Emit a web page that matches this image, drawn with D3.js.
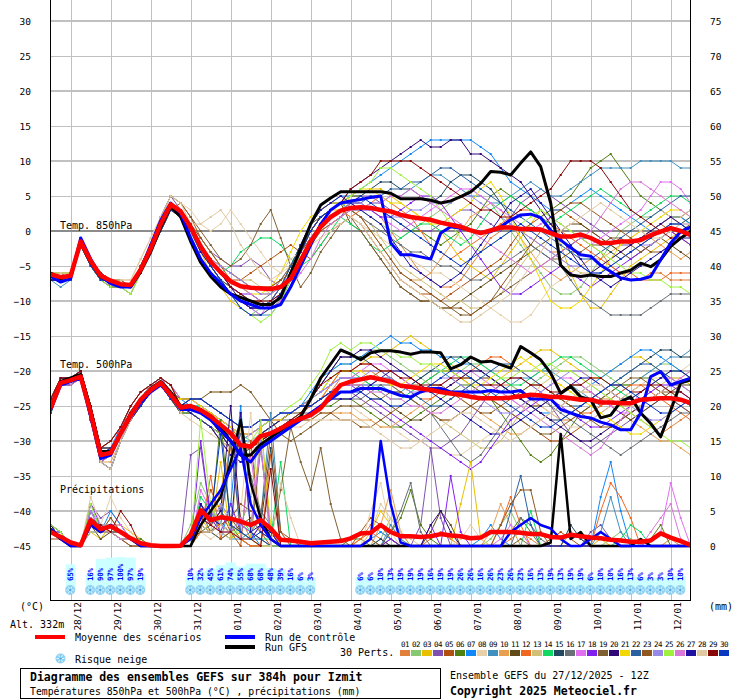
<!DOCTYPE html>
<html><head><meta charset="utf-8">
<script src="https://cdn.jsdelivr.net/npm/d3@7"></script>
<style>body{margin:0;background:#fff}svg{display:block}text{font-family:"DejaVu Sans Mono",monospace}</style>
</head><body><svg id="c" width="740" height="700"></svg>
<script>
// ---------- DATA ----------
const stepHours = [0,6,12,18,24,30,36,42,48,54,60,66,72,78,84,90,96,102,108,114,120,126,132,138,144,150,156,162,168,174,180,186,192,198,204,210,216,222,228,234,240,246,252,258,264,270,276,282,288,294,300,306,312,318,324,330,336,342,348,354,360,366,372,378,384];
const dateHours = [12,36,60,84,108,132,156,180,204,228,252,276,300,324,348,372];
const dateLabels = ["28/12","29/12","30/12","31/12","01/01","02/01","03/01","04/01","05/01","06/01","07/01","08/01","09/01","10/01","11/01","12/01"];
const tempTicks = [30,25,20,15,10,5,0,-5,-10,-15,-20,-25,-30,-35,-40,-45];
const mmTicks = [75,70,65,60,55,50,45,40,35,30,25,20,15,10,5,0];
const pertColors = ["#e0803a","#88c870","#e8c000","#8050b0","#b05010","#508010","#1088f8","#e8d0a8","#4090c0","#e8a050","#604a18","#f06820","#d0c078","#10d860","#204860","#687078","#e070f0","#8020f0","#806030","#300878","#f0d800","#2860a0","#905820","#9888e8","#a0f040","#d878d8","#2010a0","#e0c8a0","#880808","#0838c0"];
const pertLabels = ["01","02","03","04","05","06","07","08","09","10","11","12","13","14","15","16","17","18","19","20","21","22","23","24","25","26","27","28","29","30"];

const mean850 = [-6.2,-6.6,-6.4,-1.5,-4.3,-6.4,-7.1,-7.6,-7.7,-5.5,-2.5,1.0,3.8, 2.8,0.5,-2.2,-4.4,-5.9,-7.2,-7.9,-8.1,-8.2,-8.3,-8.0,-6.8,-4.2,-1.5,0.6,2.0,2.9, 3.3,3.4,3.3,3.0,2.8,2.3,2.0,1.8,1.6,1.2,0.9,0.6,0.1,-0.3,0.1,0.5,0.5,0.3,0.3,0.2,-0.3,-0.8,-0.8,-0.5,-1.0,-1.7,-1.7,-1.5,-1.5,-1.3,-0.6,-0.1,0.4,0.0,-0.6];
const control850 = [-6.5,-7.3,-6.8,-1.0,-4.0,-6.5,-7.5,-8.0,-8.0,-5.5,-2.0,1.5,4.0, 2.5,-1.0,-4.0,-6.0,-7.5,-9.0,-10.0,-10.5,-11.0,-11.0,-10.5,-8.0,-5.0,-2.0,1.0,3.0,4.0, 4.3,4.5,4.8,5.0,-1.7,-3.4,-3.4,-3.7,-4.0,-0.3,0.6,0.4,0.1,-0.2,-0.1,0.6,1.6,2.3,2.4,1.9,0.1,-1.3,-2.4,-3.4,-3.6,-4.9,-5.8,-6.7,-7.0,-6.9,-6.5,-4.1,-1.7,-0.1,0.6];
const gfs850 = [-6.0,-6.8,-6.3,-1.8,-4.5,-6.6,-7.3,-7.8,-8.0,-5.8,-3.0,0.5,3.5, 2.0,-1.5,-4.5,-6.5,-8.0,-9.0,-9.5,-10.0,-10.5,-10.5,-9.5,-6.0,-2.5,1.0,3.7,4.7,5.6, 5.6,5.6,5.6,5.6,5.4,4.6,4.6,4.6,4.4,4.0,4.3,4.9,5.6,6.8,8.5,8.4,8.0,9.7,11.3,9.2,4.0,-4.9,-6.3,-6.5,-6.3,-6.5,-6.5,-6.0,-5.6,-4.6,-5.1,-4.1,-2.2,-1.0,-0.1];

const mean500 = [-25.3,-21.7,-21.3,-20.8,-26.0,-32.0,-31.7,-28.9,-26.3,-24.1,-22.7,-21.7,-23.4, -25.2,-25.0,-25.6,-26.5,-27.7,-28.9,-30.6,-30.8,-29.3,-28.9,-28.2,-27.4,-26.8,-26.3,-25.3,-23.6,-22.0, -21.5,-21.2,-20.9,-21.2,-21.5,-22.1,-22.3,-22.5,-22.7,-23.0,-23.2,-23.4,-23.7,-23.9,-23.9,-23.9,-23.8,-23.6,-23.4,-23.5,-23.7,-23.7,-23.9,-24.1,-24.1,-24.5,-24.5,-24.6,-24.6,-24.1,-24.0,-23.9,-23.9,-24.1,-24.6];
const control500 = [-25.5,-22,-21.5,-21,-26.5,-32.5,-32,-29,-26.5,-24.5,-23,-22,-23.5, -25.5,-25.5,-26,-27,-28.5,-30,-32,-33,-31,-30,-29,-28,-27,-26,-25,-24,-23, -23,-22.5,-22.5,-22.5,-23,-23.5,-23.7,-23,-22.5,-22.5,-23,-23,-23,-23,-22.8,-23,-23,-22.8,-24,-24,-24,-25.5,-26,-26.5,-26.7,-27.3,-27.7,-28.4,-28.4,-26,-20.8,-20.1,-22,-21.5,-21];
const gfs500 = [-25,-21.5,-21,-20.5,-25.5,-31.5,-31.5,-29,-26,-24,-22.5,-21.5,-23, -25,-25,-25.5,-26.5,-28,-30,-32,-32,-30.5,-29.5,-28.5,-27.5,-26.5,-24,-21,-19,-17, -17.6,-18.4,-17.4,-17.1,-17.1,-17.3,-17.6,-17.3,-17.3,-17.4,-19.7,-19.1,-18.0,-18.7,-18.6,-19.1,-19.6,-16.5,-17.4,-18.4,-20.3,-23.2,-22.2,-23.7,-24.1,-26.7,-26.3,-24.4,-23.7,-26.0,-27.5,-29.4,-25.6,-21.7,-21.3];

const meanPrecip = [2.0,1.3,0.5,0.1,3.7, 2.4,2.8,2.0,1.1,0.4, 0.1,0,0,0.05,1.6, 5.1,3.7,4.1,3.9,3.5, 3.0,3.7,2.5,0.9,0.8, 0.6,0.4,0.5,0.6,0.7, 1.1,1.8,1.9,3.0,2.0, 1.4,1.4,1.3,1.4,1.7, 1.5,1.4,1.1,1.2,2.0, 2.0,2.0,1.9,1.7,1.7, 1.3,1.2,1.6,1.4,1.2, 1.1,0.9,0.8,0.6,0.6, 0.8,1.8,1.2,0.7,0.1];
const controlPrecip = [2.5,1,0,0,3, 2,3,2,1,0, 0,0,0,0,1, 4,6,8,11,14, 6,3,1,0,0, 0,0,0,0,0, 0,0,1,15,6, 0.5,0,0,0,0, 0,0,0,0,0, 0,2,3,4,3, 2.5,1,0,0,1, 2,1,0,0,0, 0,0,0,0,0];
const gfsPrecip = [2,1,0,0,3, 2,3,2,1,0, 0,0,0,0,0, 3,5,7,12,18, 9,4,1,0,0, 0,0,0,0,0, 0,0,0,0,0, 0,0,0,0,0, 0,0,0,0,0, 0,0,0,0,0, 0.5,16,1,2,0, 0,0,0,0,1, 0,0,0,0,0];

const snowRisk = [0,0,65,0,16, 90,97,100,97,19, 0,0,0,0,10, 32,45,61,74,55, 68,68,48,39,16, 6,3,0,0,0, 0,6,6,10,13, 19,19,19,16,19, 19,26,26,16,26, 23,26,23,16,13, 19,13,19,19,6, 10,10,16,13,6, 3,3,10,10,0];

const t850Perts = [
[-6,-6,-6,-1,-4,-6,-7,-7,-8,-5,-2,1,4, 3,1,-2,-4,-6,-8,-9,-10,-10,-11,-9,-6,-3,-1,1,2,3, 4,4,3,2,0,-2,-4,-6,-7,-8,-8,-7,-5,-3,-1,0,1,0,-1,-2,-3,-3,-2,-1,-2,-3,-5,-6,-7,-7,-6,-6,-7,-7,-7],
[-6,-7,-7,-2,-5,-7,-7,-8,-8,-6,-3,1,3, 3,0,-3,-5,-7,-9,-11,-12,-11,-10,-8,-5,-2,0,2,3,4, 3,3,2,1,0,-1,0,1,2,3,4,5,6,5,4,2,0,-2,-4,-6,-8,-9,-9,-8,-6,-4,-2,0,1,2,2,3,2,1,0],
[-6,-7,-6,-2,-4,-6,-7,-8,-9,-6,-3,0,3, 2,0,-3,-6,-8,-10,-11,-12,-12,-11,-9,-6,-3,0,2,3,3, 5,5,6,6,5,4,3,2,1,0,-2,-4,-5,-6,-7,-5,-3,-1,1,3,2,-2,-6,-9,-11,-11,-9,-7,-5,-4,-3,-2,-1,0,0],
[-6,-6,-6,-1,-4,-6,-7,-8,-8,-5,-2,2,5, 3,1,-1,-3,-4,-5,-5,-4,-5,-7,-8,-6,-4,-2,0,1,2, 4,5,5,4,3,2,1,0,0,1,2,3,3,2,1,0,2,4,5,6,5,4,3,2,1,0,-1,-2,-2,-1,0,1,2,2,3],
[-7,-7,-6,-2,-4,-6,-8,-8,-8,-6,-2,0,3, 4,2,-1,-3,-5,-7,-7,-6,-5,-4,-3,-2,-3,-4,-2,0,1, 2,1,-1,-3,-5,-7,-8,-9,-9,-10,-9,-8,-7,-6,-5,-4,-2,0,1,2,3,3,2,1,0,-1,-2,-3,-2,-1,0,1,0,-1,-2],
[-6,-7,-6,-1,-4,-6,-7,-8,-8,-5,-2,1,4, 3,1,-2,-4,-6,-7,-8,-9,-10,-11,-10,-7,-4,-1,1,2,3, 4,4,3,3,2,1,0,0,-1,-2,-1,0,1,3,5,6,5,4,3,2,3,4,5,7,9,10,11,9,7,5,4,3,2,2,1],
[-6,-6,-6,-2,-5,-7,-7,-8,-8,-6,-3,1,3, 2,-1,-4,-6,-7,-8,-9,-10,-11,-11,-9,-6,-2,1,3,4,5, 5,6,7,8,9,10,11,12,13,13,13,13,13,12,11,9,7,6,5,4,3,3,4,5,6,5,4,3,2,1,0,1,2,2,1],
[-6,-7,-6,-1,-4,-6,-7,-7,-7,-4,-1,2,5, 4,3,1,0,1,3,1,-1,-3,-5,-6,-5,-3,-1,0,1,1, 2,1,0,-1,-2,-3,-4,-5,-6,-6,-7,-8,-9,-10,-11,-12,-13,-13,-12,-10,-8,-7,-6,-5,-4,-3,-2,-1,0,1,2,3,2,1,0],
[-7,-8,-7,-2,-4,-6,-7,-8,-9,-6,-3,0,3, 3,0,-3,-5,-7,-9,-10,-11,-12,-12,-10,-7,-3,0,2,3,4, 3,3,4,4,5,5,6,7,8,8,7,6,5,5,4,4,5,6,7,6,5,5,6,7,8,9,9,9,9,10,10,10,10,9,9],
[-6,-6,-6,-1,-4,-6,-7,-8,-8,-5,-2,1,4, 3,1,-2,-4,-6,-7,-8,-8,-9,-9,-8,-6,-3,-1,1,2,3, 3,2,0,-2,-4,-6,-7,-7,-6,-4,-2,0,2,3,4,3,1,-1,-3,-5,-6,-7,-6,-5,-4,-4,-3,-2,-1,0,-1,-2,-3,-4,-3],
[-6,-7,-6,-2,-4,-6,-7,-8,-8,-6,-3,0,3, 2,0,-2,-5,-7,-8,-9,-10,-11,-10,-8,-5,-2,1,2,3,4, 1,0,-2,-4,-6,-8,-9,-10,-10,-11,-11,-10,-9,-8,-7,-6,-5,-4,-3,-2,-1,0,1,1,0,-1,-2,-3,-4,-3,-2,-1,-2,-3,-4],
[-6,-6,-6,-1,-4,-6,-7,-7,-8,-5,-2,1,4, 3,1,-2,-4,-5,-6,-7,-8,-8,-8,-7,-5,-3,-1,1,2,3, 2,3,4,5,4,3,2,0,-2,-3,-4,-3,-2,-1,0,1,2,3,3,2,1,0,-1,-2,-3,-4,-5,-6,-6,-7,-7,-7,-6,-6,-6],
[-6,-7,-7,-2,-4,-7,-7,-8,-8,-5,-2,1,3, 3,1,-1,-3,-5,-6,-7,-7,-8,-9,-8,-6,-4,-2,0,1,2, 3,2,1,-1,-3,-5,-6,-7,-8,-9,-10,-10,-11,-11,-10,-9,-7,-5,-3,-2,-3,-4,-5,-6,-6,-5,-4,-3,-2,-1,0,1,2,2,3],
[-6,-6,-6,-1,-4,-6,-7,-8,-8,-5,-2,1,4, 3,1,-2,-4,-6,-5,-3,-2,-1,-1,-2,-4,-5,-4,-2,0,2, 1,0,-2,-3,-2,-1,0,1,1,0,-1,-2,-1,1,3,4,5,4,3,2,1,2,3,4,5,6,5,4,3,2,3,4,5,5,4],
[-7,-7,-6,-2,-5,-7,-7,-8,-8,-6,-3,1,3, 3,0,-3,-5,-7,-9,-10,-11,-11,-10,-8,-5,-2,1,3,4,4, 5,5,6,7,7,6,6,5,4,5,7,8,8,7,6,4,2,0,-2,-3,-4,-3,-2,-1,-1,-2,-3,-4,-3,-2,-1,0,1,1,2],
[-6,-7,-6,-1,-4,-6,-7,-8,-8,-5,-2,1,4, 2,0,-2,-4,-6,-8,-9,-10,-10,-9,-7,-5,-3,-1,1,2,3, 3,2,1,0,-1,-2,-3,-3,-4,-5,-5,-6,-7,-7,-6,-5,-4,-3,-2,-3,-4,-5,-7,-9,-10,-11,-12,-12,-12,-12,-11,-10,-9,-9,-9],
[-6,-6,-6,-2,-4,-6,-7,-8,-8,-5,-2,1,4, 3,1,-2,-5,-7,-9,-10,-11,-12,-10,-8,-6,-3,0,2,3,4, 4,4,3,2,1,0,1,2,3,4,5,6,6,5,4,3,2,1,0,1,2,1,0,-1,-2,-1,0,1,2,3,5,7,7,6,4],
[-6,-7,-6,-1,-4,-6,-7,-8,-8,-6,-2,1,4, 3,0,-2,-4,-6,-8,-9,-9,-10,-11,-9,-6,-3,0,2,3,4, 4,3,3,2,2,3,4,5,5,4,2,0,-2,-4,-6,-8,-9,-9,-8,-7,-6,-5,-6,-7,-8,-7,-6,-5,-4,-3,-2,-1,0,-1,-2],
[-6,-6,-6,-1,-4,-6,-7,-7,-8,-5,-2,2,5, 4,2,0,-2,-4,-5,-4,-2,1,3,-1,-5,-8,-6,-3,-1,1, 2,0,-2,-4,-6,-8,-9,-10,-10,-11,-11,-12,-12,-11,-10,-9,-8,-7,-6,-5,-4,-4,-3,-3,-2,-2,-1,-1,-2,-3,-2,-1,0,0,1],
[-7,-7,-7,-2,-5,-7,-8,-8,-8,-6,-3,0,3, 3,1,-2,-4,-6,-8,-10,-11,-11,-10,-9,-6,-3,0,2,3,4, 6,7,8,9,10,11,12,13,12,12,13,13,11,11,10,9,8,7,5,3,1,-1,-3,-5,-6,-5,-4,-3,-2,-1,0,1,2,1,0],
[-6,-6,-6,-1,-4,-6,-7,-8,-8,-5,-2,1,3, 2,0,-2,-4,-6,-7,-8,-9,-9,-8,-6,-3,0,2,3,4,4, 5,6,6,5,4,4,3,2,1,1,2,3,4,6,7,5,2,-1,-4,-7,-10,-11,-11,-10,-8,-6,-4,-2,-1,0,1,2,3,3,2],
[-6,-7,-6,-2,-4,-6,-7,-8,-8,-5,-2,1,4, 3,1,-2,-5,-7,-9,-10,-10,-11,-10,-8,-5,-2,0,2,3,4, 4,4,5,5,6,6,7,7,8,9,9,8,7,6,5,4,3,2,1,0,-1,-2,-3,-4,-4,-3,-2,-1,0,1,2,3,4,5,5],
[-6,-6,-7,-2,-4,-6,-7,-8,-8,-5,-2,1,4, 3,1,-1,-3,-5,-6,-7,-8,-8,-8,-7,-6,-4,-2,0,1,2, 3,2,0,-2,-4,-6,-7,-8,-9,-10,-11,-11,-12,-11,-10,-8,-6,-4,-2,0,2,3,4,4,3,2,1,0,-1,-2,-3,-3,-2,-1,0],
[-6,-7,-6,-1,-4,-6,-7,-8,-8,-5,-2,1,4, 3,1,-2,-4,-5,-6,-7,-8,-9,-9,-8,-6,-4,-1,1,2,3, 4,4,3,3,2,2,3,3,4,4,4,5,5,4,3,2,1,0,-1,-2,-3,-4,-5,-5,-6,-6,-5,-4,-3,-2,-2,-1,0,1,1],
[-6,-6,-6,-2,-5,-7,-8,-8,-9,-6,-3,0,3, 2,0,-3,-5,-7,-9,-11,-12,-13,-12,-10,-7,-3,0,2,3,4, 5,6,7,9,9,8,7,6,5,3,1,-1,-2,-3,-2,-1,0,1,2,3,2,1,0,-1,-2,-3,-4,-5,-6,-6,-7,-7,-8,-8,-9],
[-6,-7,-6,-1,-4,-6,-7,-8,-8,-5,-2,1,4, 3,1,-2,-4,-6,-7,-8,-9,-10,-11,-10,-8,-6,-4,-1,1,2, 3,3,4,4,5,5,6,5,4,3,2,1,0,-1,-2,-3,-4,-5,-6,-5,-4,-3,-2,-1,0,2,4,6,7,7,6,5,4,3,2],
[-7,-7,-6,-2,-4,-6,-7,-8,-8,-6,-3,1,3, 2,0,-3,-5,-7,-9,-10,-11,-11,-11,-9,-6,-2,1,3,4,5, 4,3,2,1,-1,-3,-5,-6,-7,-8,-7,-6,-4,-2,0,2,4,5,6,4,2,0,-2,-4,-6,-7,-8,-7,-6,-5,-4,-3,-2,-1,-1],
[-6,-6,-6,-1,-4,-6,-7,-7,-7,-4,-1,2,5, 4,1,1,2,3,1,-2,-4,-6,-7,-6,-4,-3,-2,-1,0,1, 2,1,-1,-3,-5,-7,-8,-9,-10,-11,-12,-13,-13,-12,-11,-10,-9,-7,-5,-3,-1,0,1,2,3,4,3,2,1,0,-1,-1,0,1,1],
[-6,-7,-6,-1,-4,-6,-7,-8,-8,-5,-2,1,4, 3,1,-2,-4,-6,-8,-9,-10,-10,-10,-9,-6,-3,0,2,3,4, 6,7,8,10,10,10,10,9,8,7,6,5,4,3,3,2,2,3,4,5,6,8,10,10,10,9,7,5,3,2,1,0,-1,-1,0],
[-6,-7,-7,-2,-5,-7,-7,-8,-8,-6,-3,0,3, 3,0,-2,-5,-7,-9,-11,-12,-12,-11,-9,-6,-3,0,2,3,4, 4,5,4,3,2,1,0,-1,-2,-3,-4,-5,-4,-3,-2,-1,0,1,0,-1,-2,-3,-4,-5,-6,-6,-5,-4,-3,-2,-1,0,1,1,0]
];

const t500Perts = [
[-25,-22,-21,-21,-26,-32,-32,-29,-26,-24,-23,-22,-23, -25,-25,-26,-27,-28,-30,-32,-33,-31,-30,-29,-28,-27,-26,-25,-23,-21, -21,-20,-20,-21,-22,-23,-24,-25,-26,-27,-27,-26,-25,-24,-23,-22,-22,-23,-24,-25,-26,-27,-27,-26,-25,-24,-24,-25,-26,-27,-28,-29,-28,-27,-26],
[-26,-22,-22,-21,-27,-33,-32,-28,-26,-24,-22,-21,-23, -25,-25,-26,-27,-29,-30,-31,-31,-30,-29,-28,-27,-26,-24,-22,-20,-19, -19,-18,-17,-17,-18,-19,-20,-21,-22,-22,-21,-20,-19,-19,-20,-21,-22,-23,-22,-21,-20,-19,-18,-18,-19,-20,-21,-22,-22,-21,-20,-19,-19,-20,-21],
[-25,-21,-21,-20,-25,-31,-31,-29,-27,-25,-23,-22,-24, -26,-25,-26,-26,-27,-28,-30,-31,-30,-29,-28,-27,-26,-25,-24,-22,-20, -20,-19,-18,-18,-17,-16,-15,-16,-17,-18,-19,-20,-21,-22,-22,-21,-20,-19,-18,-17,-17,-18,-19,-20,-21,-21,-20,-19,-18,-18,-19,-20,-21,-21,-22],
[-25,-22,-21,-21,-26,-33,-34,-30,-27,-24,-22,-22,-23, -25,-26,-27,-28,-30,-32,-33,-32,-30,-29,-28,-27,-27,-26,-25,-24,-23, -23,-24,-25,-26,-27,-28,-29,-30,-31,-31,-30,-29,-27,-25,-23,-22,-21,-21,-22,-23,-25,-27,-29,-30,-31,-30,-29,-28,-27,-26,-25,-24,-24,-25,-26],
[-24,-21,-21,-20,-25,-31,-30,-28,-25,-23,-22,-21,-22, -25,-24,-24,-25,-26,-27,-28,-28,-27,-27,-26,-26,-25,-25,-24,-23,-22, -22,-21,-21,-20,-20,-21,-22,-22,-21,-20,-20,-21,-22,-23,-24,-25,-26,-27,-28,-29,-30,-30,-29,-28,-27,-26,-25,-24,-23,-22,-22,-23,-24,-24,-25],
[-26,-22,-21,-21,-27,-32,-31,-29,-26,-25,-23,-22,-24, -26,-26,-27,-28,-29,-31,-32,-32,-31,-30,-29,-28,-27,-26,-25,-25,-24, -24,-25,-26,-27,-28,-28,-27,-26,-25,-24,-23,-22,-22,-23,-24,-26,-28,-30,-32,-33,-32,-30,-28,-26,-25,-24,-23,-22,-22,-21,-21,-22,-23,-24,-25],
[-25,-21,-21,-20,-26,-32,-31,-28,-26,-24,-22,-21,-23, -24,-25,-25,-26,-28,-29,-30,-30,-29,-28,-27,-26,-25,-23,-21,-20,-19, -19,-18,-17,-16,-15,-16,-16,-17,-17,-18,-18,-19,-19,-20,-21,-22,-23,-24,-25,-26,-26,-25,-24,-23,-22,-21,-20,-19,-18,-17,-17,-18,-19,-20,-21],
[-26,-22,-21,-21,-26,-32,-32,-29,-26,-24,-23,-22,-23, -24,-24,-24,-23,-23,-23,-22,-23,-25,-27,-29,-30,-29,-28,-27,-26,-25, -25,-26,-27,-28,-28,-29,-30,-30,-31,-31,-32,-32,-31,-30,-29,-28,-27,-26,-25,-25,-26,-27,-28,-28,-27,-26,-25,-24,-23,-22,-21,-21,-20,-20,-19],
[-25,-21,-21,-20,-25,-31,-31,-29,-27,-25,-23,-22,-24, -25,-26,-27,-28,-29,-30,-30,-29,-28,-27,-26,-26,-25,-24,-23,-22,-21, -21,-21,-22,-22,-23,-23,-22,-21,-20,-20,-21,-22,-23,-24,-24,-23,-22,-21,-21,-20,-20,-21,-22,-23,-24,-25,-24,-23,-22,-21,-20,-19,-18,-18,-17],
[-25,-22,-22,-21,-26,-33,-33,-30,-27,-25,-23,-22,-23, -25,-26,-27,-28,-30,-31,-32,-31,-30,-29,-28,-28,-27,-27,-26,-26,-26, -26,-27,-27,-28,-28,-27,-26,-25,-24,-23,-23,-24,-25,-26,-27,-28,-29,-29,-28,-27,-26,-25,-24,-23,-23,-24,-25,-26,-27,-28,-29,-30,-30,-31,-32],
[-24,-21,-21,-20,-25,-31,-30,-28,-25,-23,-22,-21,-22, -24,-24,-25,-26,-27,-28,-29,-29,-28,-27,-27,-26,-26,-25,-24,-23,-22, -22,-22,-23,-24,-25,-26,-27,-27,-26,-25,-24,-23,-22,-21,-21,-22,-23,-24,-25,-25,-24,-23,-22,-22,-23,-24,-25,-26,-27,-26,-25,-24,-23,-22,-22],
[-26,-22,-21,-21,-27,-32,-31,-29,-26,-25,-23,-22,-24, -26,-25,-26,-26,-27,-28,-30,-31,-30,-29,-28,-27,-26,-25,-24,-22,-20, -20,-19,-19,-20,-21,-22,-23,-24,-24,-23,-22,-21,-20,-19,-18,-18,-19,-20,-21,-22,-23,-24,-25,-26,-26,-25,-24,-23,-22,-22,-23,-24,-25,-26,-27],
[-25,-22,-21,-21,-26,-32,-32,-29,-26,-24,-23,-22,-23, -25,-26,-27,-28,-30,-32,-33,-32,-30,-29,-28,-27,-27,-26,-25,-24,-23, -23,-22,-21,-21,-22,-23,-24,-25,-26,-27,-28,-29,-30,-31,-31,-30,-28,-26,-24,-22,-21,-20,-20,-21,-22,-23,-24,-25,-25,-24,-23,-22,-21,-21,-20],
[-26,-22,-22,-21,-27,-33,-32,-28,-26,-24,-22,-21,-23, -25,-25,-25,-26,-27,-28,-29,-30,-29,-28,-27,-26,-25,-24,-23,-21,-20, -20,-21,-22,-23,-24,-24,-23,-22,-21,-20,-19,-18,-18,-19,-20,-21,-22,-22,-21,-20,-19,-18,-18,-19,-20,-21,-22,-23,-24,-23,-22,-21,-20,-20,-21],
[-25,-21,-21,-20,-25,-31,-31,-29,-27,-25,-23,-22,-24, -26,-26,-27,-28,-29,-31,-32,-31,-29,-28,-27,-26,-25,-24,-22,-20,-18, -18,-18,-19,-20,-21,-22,-22,-21,-20,-19,-18,-18,-19,-20,-21,-22,-23,-24,-25,-26,-27,-27,-26,-25,-24,-23,-22,-21,-20,-19,-18,-17,-17,-18,-18],
[-25,-22,-21,-21,-26,-33,-34,-30,-27,-24,-22,-22,-23, -25,-25,-26,-27,-29,-31,-32,-31,-29,-28,-27,-27,-26,-26,-25,-24,-24, -24,-24,-23,-22,-22,-23,-24,-25,-26,-28,-30,-32,-33,-32,-30,-28,-26,-25,-24,-24,-25,-26,-27,-28,-29,-30,-31,-32,-31,-30,-29,-28,-27,-26,-26],
[-24,-21,-21,-20,-25,-31,-30,-28,-25,-23,-22,-21,-22, -24,-24,-25,-26,-27,-28,-29,-29,-28,-27,-27,-26,-25,-24,-23,-22,-21, -21,-20,-19,-19,-20,-21,-22,-23,-23,-22,-21,-20,-20,-21,-22,-23,-24,-25,-24,-23,-22,-21,-21,-22,-23,-24,-25,-26,-26,-25,-24,-23,-22,-21,-20],
[-26,-22,-21,-21,-27,-32,-31,-29,-26,-25,-23,-22,-24, -25,-24,-24,-25,-26,-27,-28,-28,-27,-27,-26,-26,-25,-25,-24,-23,-22, -22,-23,-24,-25,-26,-27,-28,-29,-30,-31,-32,-33,-34,-33,-31,-29,-27,-26,-25,-24,-24,-25,-26,-27,-28,-28,-27,-26,-25,-24,-23,-22,-22,-23,-24],
[-25,-22,-21,-21,-26,-32,-32,-29,-26,-24,-23,-22,-23, -24,-24,-24,-23,-23,-23,-22,-23,-25,-27,-29,-30,-29,-28,-27,-26,-25, -25,-25,-24,-24,-23,-23,-24,-25,-26,-27,-27,-26,-25,-24,-24,-25,-26,-27,-28,-29,-29,-28,-27,-26,-25,-24,-23,-22,-21,-21,-22,-23,-24,-25,-26],
[-26,-22,-22,-21,-27,-33,-32,-28,-26,-24,-22,-21,-23, -26,-26,-27,-28,-29,-31,-32,-31,-29,-28,-27,-26,-25,-24,-22,-20,-18, -18,-17,-17,-18,-19,-20,-21,-22,-23,-23,-22,-21,-20,-20,-21,-22,-23,-24,-25,-26,-27,-28,-29,-30,-30,-29,-28,-27,-26,-25,-24,-23,-22,-22,-21],
[-25,-21,-21,-20,-25,-31,-31,-29,-27,-25,-23,-22,-24, -24,-24,-25,-26,-27,-28,-29,-29,-28,-27,-27,-26,-25,-24,-23,-21,-20, -20,-20,-21,-21,-22,-22,-21,-20,-19,-19,-20,-21,-22,-22,-21,-20,-19,-18,-19,-20,-21,-22,-23,-24,-25,-26,-27,-28,-29,-29,-28,-27,-26,-25,-24],
[-25,-22,-21,-21,-26,-33,-34,-30,-27,-24,-22,-22,-23, -25,-24,-24,-25,-26,-27,-28,-28,-27,-27,-26,-26,-25,-25,-24,-23,-23, -23,-22,-22,-21,-21,-22,-23,-24,-25,-25,-24,-23,-22,-21,-20,-19,-19,-20,-21,-22,-23,-24,-25,-25,-24,-23,-22,-21,-20,-19,-19,-20,-21,-22,-23],
[-24,-21,-21,-20,-25,-31,-30,-28,-25,-23,-22,-21,-22, -25,-26,-27,-28,-30,-31,-32,-31,-30,-29,-28,-28,-27,-27,-26,-26,-27, -27,-28,-28,-27,-26,-25,-24,-23,-22,-22,-23,-24,-25,-26,-26,-25,-24,-23,-22,-22,-23,-24,-25,-26,-27,-28,-28,-27,-26,-25,-24,-23,-23,-24,-25],
[-26,-22,-21,-21,-27,-32,-31,-29,-26,-25,-23,-22,-24, -25,-26,-27,-28,-29,-30,-30,-29,-28,-27,-26,-26,-25,-24,-23,-22,-21, -21,-21,-20,-20,-21,-22,-23,-23,-22,-21,-21,-22,-23,-24,-25,-26,-26,-25,-24,-23,-22,-21,-20,-20,-21,-22,-23,-24,-25,-26,-27,-27,-26,-25,-24],
[-25,-22,-21,-21,-26,-32,-32,-29,-26,-24,-23,-22,-23, -26,-26,-27,-28,-29,-30,-31,-30,-28,-27,-26,-25,-24,-22,-20,-17,-16, -17,-16,-16,-17,-17,-18,-18,-19,-19,-20,-20,-21,-21,-22,-22,-21,-21,-20,-20,-19,-19,-20,-20,-21,-22,-23,-24,-25,-26,-27,-28,-29,-30,-30,-31],
[-26,-22,-22,-21,-27,-33,-32,-28,-26,-24,-22,-21,-23, -25,-25,-26,-27,-28,-30,-32,-33,-31,-30,-29,-28,-27,-26,-25,-23,-22, -22,-22,-23,-23,-24,-24,-25,-25,-26,-26,-25,-24,-23,-22,-22,-23,-24,-25,-26,-27,-28,-29,-30,-31,-32,-31,-29,-27,-25,-23,-22,-21,-21,-22,-23],
[-25,-21,-21,-20,-25,-31,-31,-29,-27,-25,-23,-22,-24, -25,-26,-27,-28,-30,-32,-33,-32,-30,-29,-28,-27,-27,-26,-25,-24,-24, -24,-23,-22,-21,-20,-20,-21,-22,-23,-24,-25,-26,-27,-28,-29,-29,-28,-27,-26,-25,-24,-23,-22,-21,-21,-22,-23,-24,-24,-23,-22,-21,-20,-20,-21],
[-25,-22,-21,-21,-26,-33,-34,-30,-27,-24,-22,-22,-23, -26,-27,-28,-29,-30,-31,-31,-30,-29,-29,-28,-28,-28,-27,-27,-27,-27, -27,-27,-28,-29,-30,-31,-31,-30,-29,-28,-27,-26,-26,-27,-28,-29,-30,-29,-28,-27,-26,-25,-24,-23,-22,-22,-23,-24,-25,-25,-24,-23,-22,-22,-21],
[-24,-21,-21,-20,-25,-31,-30,-28,-25,-23,-22,-21,-22, -25,-25,-26,-27,-29,-30,-31,-31,-30,-29,-28,-27,-26,-24,-22,-21,-20, -20,-19,-19,-20,-20,-21,-21,-22,-22,-22,-21,-21,-21,-22,-22,-22,-21,-21,-22,-22,-23,-23,-22,-22,-21,-21,-22,-22,-23,-23,-22,-22,-23,-23,-24],
[-26,-22,-21,-21,-27,-32,-31,-29,-26,-25,-23,-22,-24, -25,-24,-24,-25,-26,-27,-28,-28,-27,-27,-26,-26,-25,-25,-24,-23,-23, -23,-23,-24,-24,-25,-25,-24,-23,-22,-21,-20,-20,-21,-22,-23,-24,-25,-26,-27,-28,-28,-27,-26,-25,-24,-23,-22,-22,-23,-24,-25,-26,-26,-25,-24]
];

const precipPerts = [
[2,1,0,0,3, 2,4,2,1,0, 0,0,0,0,0, 5,3,8,14,4, 1,0,0,0,0, 0,0,0,0,0, 0,1,3,2,1, 0,0,0,1,2, 1,0,0,0,0, 0,1,2,1,0, 0,0,2,1,0, 0,0,0,0,0, 0,0,1,0,0],
[3,1,0,0,5, 3,2,1,1,0, 0,0,0,0,3, 9,6,2,1,3, 7,18,2,0,0, 0,0,0,0,0, 0,0,0,1,4, 2,0,0,0,0, 0,0,0,0,1, 3,5,2,0,0, 0,0,0,0,0, 0,1,2,1,0, 0,0,0,0,0],
[2,2,0,0,2, 1,3,3,2,1, 0,0,0,0,0, 4,2,12,1,2, 1,0,0,0,0, 0,0,0,0,0, 0,0,2,5,3, 1,0,0,0,0, 0,6,12,1,0, 0,0,0,0,0, 0,0,0,0,0, 1,0,0,0,0, 0,0,0,0,0],
[1,1,0,0,6, 4,5,3,1,0, 0,0,0,0,13, 14,4,3,2,1, 0,0,0,0,0, 0,0,0,0,0, 0,0,1,0,0, 0,0,3,14,4, 0,0,0,0,0, 0,0,0,0,0, 0,0,0,0,2, 3,1,0,0,0, 0,0,0,0,0],
[2,1,0,0,4, 2,2,1,0,0, 0,0,0,0,1, 3,8,5,2,0, 15,2,0,0,0, 0,0,0,0,0, 0,2,4,3,1, 0,0,0,0,0, 0,0,0,0,0, 0,0,0,0,0, 1,2,1,0,0, 0,0,0,0,0, 0,0,0,0,0],
[3,2,0,0,3, 2,3,2,1,1, 0,0,0,0,0, 2,3,18,3,1, 0,0,0,0,0, 0,0,0,0,0, 1,1,0,0,2, 4,8,3,1,0, 0,0,0,0,0, 0,2,4,2,0, 0,0,0,0,0, 0,0,0,0,0, 1,3,0,0,0],
[2,1,0,0,2, 2,5,3,1,0, 0,0,0,0,0, 3,2,1,6,20, 2,0,0,0,0, 0,0,0,0,0, 0,0,1,2,1, 0,0,0,0,0, 0,0,0,1,3, 1,0,0,0,0, 0,0,0,0,0, 7,12,5,0,0, 0,0,0,0,0],
[2,1,0,0,3, 3,7,4,2,0, 0,0,0,0,0, 2,1,2,3,5, 19,3,1,0,0, 0,0,0,0,0, 0,0,5,9,2, 0,0,0,0,0, 0,1,3,1,0, 0,0,0,0,0, 0,0,0,0,0, 0,0,0,0,0, 0,0,0,0,0],
[2,2,0,0,5, 2,2,2,1,0, 0,0,0,0,0, 4,5,2,1,1, 2,4,19,2,0, 0,0,0,0,0, 0,0,0,0,3, 1,0,0,0,0, 0,0,0,0,0, 0,0,0,0,0, 0,0,0,0,0, 2,7,2,0,0, 0,0,0,0,0],
[1,1,0,0,4, 3,3,2,1,0, 0,0,0,0,2, 6,3,4,16,1, 0,0,0,0,0, 0,0,0,0,0, 0,0,0,3,8, 2,0,0,0,0, 0,0,0,0,2, 6,3,0,0,0, 0,0,0,0,0, 0,0,0,0,0, 0,0,0,0,0],
[3,1,0,0,3, 1,2,2,1,0, 0,0,0,0,0, 3,2,3,4,2, 1,14,2,0,0, 0,0,0,0,0, 0,0,0,0,1, 0,0,0,2,5, 3,0,0,0,0, 0,0,0,0,0, 0,0,0,0,0, 0,0,0,0,0, 0,0,0,0,0],
[2,1,0,0,3, 2,3,2,1,0, 0,0,0,0,0, 2,10,1,2,1, 0,0,13,2,0, 0,0,0,0,0, 0,1,2,1,0, 0,0,0,0,0, 0,0,0,0,0, 3,7,3,0,0, 0,0,0,0,0, 5,9,7,4,0, 0,0,0,0,0],
[2,1,0,0,2, 2,2,1,1,0, 0,0,0,0,0, 5,4,2,1,17, 3,2,1,0,0, 0,0,0,0,0, 0,0,1,0,0, 0,0,0,0,0, 0,0,0,0,0, 0,0,0,0,0, 0,0,0,0,0, 0,0,0,0,0, 0,0,0,0,0],
[2,1,0,0,4, 3,2,1,1,0, 0,0,0,0,0, 7,5,3,2,4, 2,1,1,12,0, 0,0,0,0,0, 0,0,0,0,0, 0,0,0,0,0, 0,0,0,0,0, 0,0,0,5,0, 0,0,0,0,0, 0,0,1,3,2, 0,0,0,0,0],
[3,2,0,0,5, 3,3,2,1,0, 0,0,0,0,1, 4,3,5,3,2, 1,3,14,0,0, 0,0,0,0,0, 0,0,0,1,0, 0,0,0,0,0, 0,0,0,0,0, 0,0,0,0,0, 0,0,3,1,0, 0,0,0,0,0, 0,0,0,0,0],
[2,1,0,0,3, 2,2,2,1,0, 0,0,0,0,0, 5,2,4,12,16, 10,5,3,0,0, 0,0,0,0,0, 0,0,0,0,2, 5,9,2,0,0, 0,0,0,0,0, 0,0,4,3,1, 0,0,0,0,0, 0,0,0,0,0, 0,0,0,0,0],
[2,1,0,0,5, 2,3,3,1,0, 0,0,0,0,0, 8,5,3,2,1, 13,2,1,0,0, 0,0,0,0,0, 0,0,0,0,0, 0,0,0,0,0, 0,0,0,0,0, 1,3,2,0,0, 0,0,0,0,0, 0,0,0,0,0, 1,2,9,4,0],
[2,2,0,0,6, 3,2,1,1,0, 0,0,0,0,0, 15,4,2,6,2, 1,3,2,0,0, 0,0,0,0,0, 0,0,0,0,1, 0,0,0,3,0, 10,2,0,0,0, 0,0,0,0,0, 0,0,0,0,0, 0,0,0,0,0, 0,0,0,0,0],
[2,1,0,0,3, 2,2,1,0,0, 0,0,0,0,0, 3,2,1,2,3, 4,2,1,8,17, 12,8,14,6,1, 0,0,1,0,0, 0,0,0,0,0, 0,0,0,0,0, 0,0,1,0,0, 0,0,0,0,0, 0,0,0,0,0, 0,0,0,0,0],
[3,1,0,0,4, 2,3,2,1,0, 0,0,0,0,0, 6,3,5,20,3, 2,1,0,0,0, 0,0,0,0,0, 0,0,0,0,0, 0,0,0,3,5, 2,0,0,0,0, 0,0,0,0,0, 0,0,0,0,0, 0,0,0,0,0, 0,0,0,0,0],
[2,1,0,0,3, 2,3,2,1,0, 0,0,0,0,0, 4,5,6,3,2, 1,17,3,0,0, 0,0,0,0,0, 0,0,0,0,0, 0,0,0,0,0, 0,0,0,0,0, 0,0,0,0,0, 0,0,0,0,0, 0,0,0,0,0, 0,0,0,0,0],
[2,1,0,0,4, 3,3,2,1,0, 0,0,0,0,0, 5,4,3,15,2, 1,1,0,0,0, 0,0,0,0,0, 0,0,0,0,0, 0,0,0,0,0, 0,0,0,0,0, 0,5,10,3,0, 0,0,0,0,0, 0,0,0,0,0, 0,0,0,0,0],
[2,1,0,0,4, 2,4,2,1,0, 0,0,0,0,1, 2,2,3,4,6, 5,4,16,2,1, 0,0,0,0,0, 0,0,0,0,0, 0,0,0,0,0, 0,0,0,0,0, 3,6,8,8,2, 0,0,0,0,0, 0,0,0,0,0, 0,0,0,0,0],
[2,1,0,0,5, 3,3,2,1,0, 0,0,0,0,0, 4,3,6,4,3, 2,15,0,0,0, 0,0,0,0,0, 0,0,0,0,0, 0,0,0,0,0, 0,0,0,0,0, 0,0,0,0,0, 0,0,0,0,0, 0,0,0,0,0, 0,0,0,0,0],
[3,2,0,0,6, 2,2,1,1,0, 0,0,0,0,0, 18,6,3,2,2, 1,0,0,0,0, 0,0,0,0,0, 0,0,0,0,0, 0,0,0,0,0, 0,0,0,0,0, 0,0,0,0,0, 0,0,0,0,0, 0,0,0,0,0, 0,0,0,0,0],
[2,1,0,0,4, 2,2,1,1,0, 0,0,0,0,0, 5,3,2,2,4, 3,14,2,0,0, 0,0,0,0,0, 0,0,0,0,0, 0,0,0,0,0, 0,0,0,0,0, 0,0,0,0,0, 0,0,0,0,0, 0,0,0,0,0, 2,4,6,1,0],
[2,1,0,0,3, 2,3,2,1,0, 0,0,0,0,0, 6,4,3,2,19, 2,3,2,0,0, 0,0,0,0,0, 0,0,0,0,0, 0,0,0,0,0, 0,0,0,0,0, 0,0,0,0,0, 0,0,0,0,0, 0,0,0,0,0, 0,0,0,0,0],
[2,1,0,0,7, 3,3,2,1,0, 0,0,0,0,0, 3,2,3,2,1, 1,0,0,9,4, 0,0,0,0,0, 0,0,2,6,4, 2,1,0,0,0, 0,0,0,0,0, 0,0,0,0,0, 0,0,0,0,0, 0,0,0,0,0, 0,0,0,0,0],
[2,1,0,0,3, 3,2,5,3,0, 0,0,0,0,0, 4,3,2,2,1, 1,0,11,0,0, 0,0,0,0,0, 0,0,0,0,0, 0,0,0,0,0, 0,0,0,0,0, 0,0,0,0,0, 0,0,0,0,0, 0,0,0,0,0, 0,0,0,0,0],
[2,1,0,0,3, 2,3,2,1,0, 0,0,0,0,0, 5,4,16,3,2, 1,2,1,0,0, 0,0,0,0,0, 0,0,0,0,0, 0,0,0,0,0, 0,0,0,0,0, 0,0,0,0,0, 0,0,0,0,0, 0,0,0,0,0, 0,0,0,0,0]
];

// ---------- CHART ----------
const svg = d3.select("#c");
const FONT = "DejaVu Sans Mono";
const L = 50, R = 690, B = 600;
const x = d3.scaleLinear().domain([0, 384]).range([50.7, 690.7]);
const yT = d3.scaleLinear().domain([-45, 30]).range([546, 21]);
const yP = d3.scaleLinear().domain([0, 75]).range([546, 21]);

svg.append("rect").attr("width", 740).attr("height", 700).attr("fill", "#fff");

svg.append("clipPath").attr("id", "plotclip").append("rect")
  .attr("x", L).attr("y", 0).attr("width", R - L).attr("height", B);

// vertical grid
svg.append("g").selectAll("line").data(dateHours).join("line")
  .attr("x1", d => Math.round(x(d)) + 0.5).attr("x2", d => Math.round(x(d)) + 0.5)
  .attr("y1", 0).attr("y2", B)
  .attr("stroke", "#c0c0c0").attr("stroke-width", 1);

// horizontal grid
svg.append("g").selectAll("line").data(tempTicks).join("line")
  .attr("x1", L).attr("x2", R)
  .attr("y1", d => yT(d) + (d % 10 === 0 ? 0 : 0.5))
  .attr("y2", d => yT(d) + (d % 10 === 0 ? 0 : 0.5))
  .attr("stroke", d => d === 0 ? "#8c8c8c" : "#c0c0c0")
  .attr("stroke-width", d => d % 10 === 0 ? 2 : 1);

// axes labels
const gL = svg.append("g").attr("transform", `translate(${L},0)`)
  .call(d3.axisLeft(yT).tickValues(tempTicks).tickSize(0).tickPadding(19));
gL.select(".domain").remove();
gL.attr("font-family", FONT).attr("font-size", 9.5);
gL.selectAll("text").attr("fill", "#000");

const gR = svg.append("g").attr("transform", `translate(${R},0)`)
  .call(d3.axisRight(yP).tickValues(mmTicks).tickSize(0).tickPadding(20));
gR.select(".domain").remove();
gR.attr("font-family", FONT).attr("font-size", 9.5);
gR.selectAll("text").attr("fill", "#000");

const gB = svg.append("g").attr("transform", `translate(0,${B})`)
  .call(d3.axisBottom(x).tickValues(dateHours).tickFormat((d, i) => dateLabels[i]).tickSize(0));
gB.select(".domain").remove();
gB.attr("font-family", FONT).attr("font-size", 9.5);
gB.selectAll("text").attr("fill", "#000")
  .attr("transform", "rotate(-90)").attr("text-anchor", "end")
  .attr("x", -2).attr("y", 9.5).attr("dy", 0);

// snow risk
const snowPts = snowRisk.map((p, i) => ({p, h: stepHours[i]})).filter(d => d.p > 0);
const gS = svg.append("g");
gS.selectAll("rect").data(snowPts).join("rect")
  .attr("x", d => x(d.h) - 5).attr("width", 10)
  .attr("y", d => 590 - (12 + 0.21 * d.p)).attr("height", d => 12 + 0.21 * d.p)
  .attr("fill", "#ccffff");
const flake = (g, cx, cy, r) => {
  g.append("circle").attr("cx", cx).attr("cy", cy).attr("r", r).attr("fill", "#8ed0f2");
  for (let a = 0; a < 3; a++) {
    const ang = a * Math.PI / 3;
    g.append("line").attr("x1", cx - Math.cos(ang) * (r - 1)).attr("y1", cy - Math.sin(ang) * (r - 1))
      .attr("x2", cx + Math.cos(ang) * (r - 1)).attr("y2", cy + Math.sin(ang) * (r - 1))
      .attr("stroke", "#e8f8ff").attr("stroke-width", 0.9);
  }
  g.append("circle").attr("cx", cx).attr("cy", cy).attr("r", 1.2).attr("fill", "#4aa8e0");
};
snowPts.forEach(d => flake(gS, x(d.h) - 0.5, 590, 5));
gS.selectAll("text").data(snowPts).join("text")
  .attr("transform", d => `translate(${x(d.h) + 2.5},581) rotate(-90)`)
  .attr("font-family", FONT).attr("font-size", 7.5).attr("font-weight", "bold")
  .attr("letter-spacing", -0.3)
  .attr("fill", "#0000ff").text(d => d.p + "%");

// plot lines
const plot = svg.append("g").attr("clip-path", "url(#plotclip)");
const lineT = d3.line().x((d, i) => x(stepHours[i])).y(d => yT(d));
const lineP = d3.line().x((d, i) => x(stepHours[i])).y(d => yP(d));

function drawPerts(data, gen, yScale) {
  data.forEach((arr, k) => {
    plot.append("path").datum(arr).attr("d", gen)
      .attr("fill", "none").attr("stroke", pertColors[k]).attr("stroke-width", 1);
    plot.append("g").selectAll("rect").data(arr).join("rect")
      .attr("x", (d, i) => x(stepHours[i]) - 1).attr("y", d => yScale(d) - 1)
      .attr("width", 2).attr("height", 2).attr("fill", pertColors[k]);
  });
}
drawPerts(t850Perts, lineT, yT);
drawPerts(t500Perts, lineT, yT);
drawPerts(precipPerts, lineP, yP);

function drawMain(arr, gen, color, w) {
  plot.append("path").datum(arr).attr("d", gen).attr("fill", "none")
    .attr("stroke", color).attr("stroke-width", w).attr("stroke-linejoin", "round");
}
drawMain(gfs850, lineT, "#000", 3);
drawMain(gfs500, lineT, "#000", 3);
drawMain(gfsPrecip, lineP, "#000", 2.5);
drawMain(control850, lineT, "#0000ff", 3);
drawMain(control500, lineT, "#0000ff", 3);
drawMain(controlPrecip, lineP, "#0000ff", 2.5);
drawMain(mean850, lineT, "#ff0000", 4.5);
drawMain(mean500, lineT, "#ff0000", 4.5);
drawMain(meanPrecip, lineP, "#ff0000", 4.5);

// frame
svg.append("line").attr("x1", L + 0.5).attr("x2", L + 0.5).attr("y1", 0).attr("y2", B + 1).attr("stroke", "#000");
svg.append("line").attr("x1", R + 0.5).attr("x2", R + 0.5).attr("y1", 0).attr("y2", B + 1).attr("stroke", "#000");
svg.append("line").attr("x1", L).attr("x2", R + 1).attr("y1", B + 0.5).attr("y2", B + 0.5).attr("stroke", "#000");

const txt = (t, xx, yy, size, weight, anchor) => svg.append("text").attr("x", xx).attr("y", yy)
  .attr("font-family", FONT).attr("font-size", size).attr("font-weight", weight || "normal")
  .attr("text-anchor", anchor || "start").attr("fill", "#000").text(t);
txt("Temp. 850hPa", 60, 229, 10);
txt("Temp. 500hPa", 60, 368, 10);
txt("Précipitations", 60, 493, 10);

txt("(°C)", 20, 610, 10);
txt("(mm)", 709, 610, 10);
txt("Alt. 332m", 10, 628, 10);

// legend
svg.append("line").attr("x1", 35).attr("x2", 65).attr("y1", 637).attr("y2", 637).attr("stroke", "#ff0000").attr("stroke-width", 4);
txt("Moyenne des scénarios", 75, 641, 10);
svg.append("line").attr("x1", 225).attr("x2", 255).attr("y1", 637).attr("y2", 637).attr("stroke", "#0000ff").attr("stroke-width", 4);
txt("Run de contrôle", 265, 641, 10);
svg.append("line").attr("x1", 225).attr("x2", 255).attr("y1", 647).attr("y2", 647).attr("stroke", "#000").attr("stroke-width", 4);
txt("Run GFS", 265, 651, 10);
flake(svg.append("g"), 60.5, 658.5, 5);
txt("Risque neige", 75, 663, 10);
txt("30 Perts.", 340, 656, 10);

const gLeg = svg.append("g");
gLeg.selectAll("rect").data(pertColors).join("rect")
  .attr("x", (d, k) => 400 + 11 * k).attr("y", 650).attr("width", 10).attr("height", 6).attr("fill", d => d);
gLeg.selectAll("text").data(pertLabels).join("text")
  .attr("x", (d, k) => 405 + 11 * k).attr("y", 647).attr("text-anchor", "middle")
  .attr("font-family", FONT).attr("font-size", 7.5).attr("letter-spacing", -0.4).attr("fill", "#000").text(d => d);

// title box
svg.append("rect").attr("x", 20.5).attr("y", 668.5).attr("width", 420).attr("height", 30)
  .attr("fill", "none").attr("stroke", "#000");
txt("Diagramme des ensembles GEFS sur 384h pour Izmit", 30, 681, 11.5, "bold");
txt("Températures 850hPa et 500hPa (°C) , précipitations (mm)", 30, 695, 9.8);
txt("Ensemble GEFS du 27/12/2025 - 12Z", 450, 679, 10);
txt("Copyright 2025 Meteociel.fr", 450, 695, 11.5, "bold");
</script></body></html>
